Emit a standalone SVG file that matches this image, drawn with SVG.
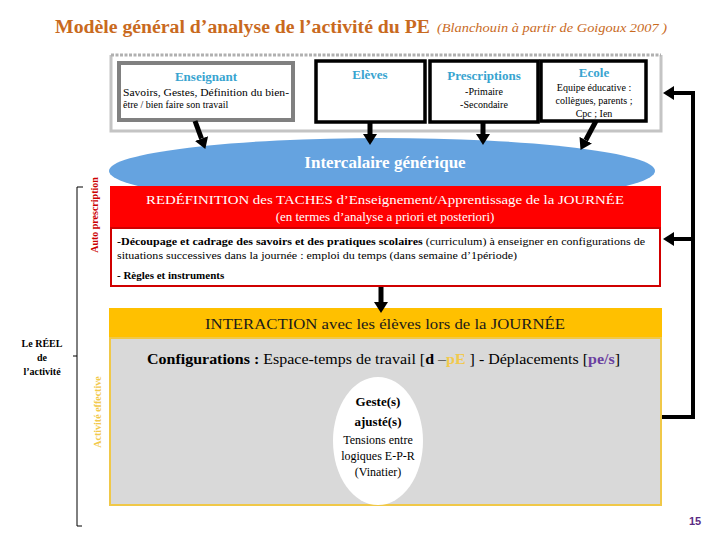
<svg xmlns="http://www.w3.org/2000/svg" width="720" height="540" viewBox="0 0 720 540">
<defs>
<style>
.ttl{fill:#C96A1E}
.bt{fill:#38A4D0;font-weight:bold;font-size:13px;text-anchor:middle}
.sm{font-size:10px;fill:#000}
.box{fill:#fff;stroke:#000;stroke-width:3.5}
.arr{stroke:#000;stroke-width:5;fill:none}
.con{stroke:#000;stroke-width:4;fill:none}
</style>
<marker id="ah" markerWidth="14" markerHeight="14" refX="0" refY="7" orient="auto" markerUnits="userSpaceOnUse"><path d="M0,0 L11,7 L0,14 z" fill="#000"/></marker>
</defs>
<rect width="720" height="540" fill="#fff"/>
<g font-family="'Liberation Serif', 'DejaVu Serif', serif">
<g id="title">
<text x="55" y="33" class="ttl" font-size="18" font-weight="bold" textLength="375" lengthAdjust="spacingAndGlyphs">Modèle général d’analyse de l’activité du PE</text>
<text x="437" y="32" class="ttl" font-size="13" font-style="italic" textLength="230" lengthAdjust="spacingAndGlyphs">(Blanchouin à partir de Goigoux 2007 )</text>
</g>
<g id="context">
<path d="M111,55 V131 H661 V55" fill="#fff" stroke="#C4C4C4" stroke-width="3"/>
<line x1="111" y1="55" x2="661" y2="55" stroke="#B0B0B0" stroke-width="3" stroke-dasharray="3,1.5"/>
</g>
<g id="enseignant">
<rect x="119" y="63" width="174" height="57" fill="#fff" stroke="#808080" stroke-width="4"/>
<text x="206" y="81" class="bt">Enseignant</text>
<text x="123" y="96" class="sm" textLength="166" lengthAdjust="spacingAndGlyphs">Savoirs, Gestes, Définition du bien-</text>
<text x="123" y="108" class="sm">être / bien faire son travail</text>
</g>
<g id="eleves">
<rect x="316" y="61" width="109" height="61" class="box"/>
<text x="370" y="79" class="bt">Elèves</text>
</g>
<g id="prescriptions">
<rect x="430" y="61" width="108" height="61" class="box"/>
<text x="484" y="80" class="bt">Prescriptions</text>
<text x="484" y="95" class="sm" text-anchor="middle">-Primaire</text>
<text x="484" y="108" class="sm" text-anchor="middle">-Secondaire</text>
</g>
<g id="ecole">
<rect x="541" y="61" width="105" height="60" class="box"/>
<text x="594" y="77" class="bt">Ecole</text>
<text x="594" y="91" class="sm" text-anchor="middle">Equipe éducative :</text>
<text x="594" y="104" class="sm" text-anchor="middle">collègues, parents ;</text>
<text x="594" y="117" class="sm" text-anchor="middle">Cpc ; Ien</text>
</g>
<g id="intercalaire">
<ellipse cx="382" cy="171" rx="273" ry="33" fill="#65A3E0"/>
<text x="385" y="168" fill="#fff" font-size="17" font-weight="bold" text-anchor="middle">Intercalaire générique</text>
</g>
<g id="redefinition">
<rect x="110" y="186" width="551" height="42" fill="#FF0000"/>
<text x="385" y="204" fill="#fff" font-size="13" text-anchor="middle" textLength="478" lengthAdjust="spacingAndGlyphs">REDÉFINITION des TACHES d’Enseignement/Apprentissage de la JOURNÉE</text>
<text x="385" y="221" fill="#fff" font-size="13" text-anchor="middle">(en termes d’analyse a priori et posteriori)</text>
<rect x="111" y="228" width="549" height="58" fill="#fff" stroke="#D00000" stroke-width="2"/>
<text x="117" y="245" font-size="11" textLength="528" lengthAdjust="spacingAndGlyphs"><tspan font-weight="bold">-Découpage et cadrage des savoirs et des pratiques scolaires</tspan> (curriculum) à enseigner en configurations de</text>
<text x="117" y="259" font-size="11" textLength="400" lengthAdjust="spacingAndGlyphs">situations successives dans la journée : emploi du temps (dans semaine d’1période)</text>
<text x="117" y="279" font-size="11" font-weight="bold">- Règles et instruments</text>
</g>
<g id="interaction">
<rect x="109" y="308" width="553" height="30" fill="#FFC000"/>
<rect x="110" y="338" width="551" height="167" fill="#D9D9D9" stroke="#F0C848" stroke-width="2"/>
<text x="385" y="329" fill="#1a1a1a" font-size="14" text-anchor="middle" textLength="360" lengthAdjust="spacingAndGlyphs">INTERACTION avec les élèves lors de la JOURNÉE</text>
<text x="147" y="364" font-size="14" fill="#000" textLength="473" lengthAdjust="spacingAndGlyphs"><tspan font-weight="bold">Configurations :</tspan> Espace-temps de travail [<tspan font-weight="bold">d</tspan> –<tspan font-weight="bold" fill="#F2C94C">pE</tspan> ] - Déplacements [<tspan font-weight="bold" fill="#6B3FA0">pe/s</tspan>]</text>
</g>
<g id="geste">
<ellipse cx="378" cy="441" rx="45" ry="64" fill="#fff"/>
<text x="378" y="406" font-size="13" font-weight="bold" text-anchor="middle">Geste(s)</text>
<text x="378" y="426" font-size="13" font-weight="bold" text-anchor="middle">ajusté(s)</text>
<text x="378" y="444" font-size="12" text-anchor="middle">Tensions entre</text>
<text x="378" y="460" font-size="12" text-anchor="middle">logiques E-P-R</text>
<text x="378" y="476" font-size="12" text-anchor="middle">(Vinatier)</text>
</g>
<g id="labels">
<path d="M83,187 H77 V526 H82 M77,356 H73" fill="none" stroke="#000" stroke-width="1"/>
<text x="42" y="347" font-size="10" font-weight="bold" text-anchor="middle">Le RÉEL</text>
<text x="42" y="361" font-size="10" font-weight="bold" text-anchor="middle">de</text>
<text x="42" y="375" font-size="10" font-weight="bold" text-anchor="middle">l’activité</text>
<text transform="translate(98,215) rotate(-90)" font-size="10" font-weight="bold" fill="#CC0000" text-anchor="middle">Auto prescription</text>
<text transform="translate(101,412) rotate(-90)" font-size="10" font-weight="bold" fill="#F2C94C" text-anchor="middle">Activité effective</text>
<text x="695" y="525" font-family="'Liberation Sans', Arial, sans-serif" font-size="11" font-weight="bold" fill="#5B2C83" text-anchor="middle">15</text>
</g>
</g>
<g id="connectors">
<line x1="195" y1="121" x2="201.5" y2="138.6" class="arr" marker-end="url(#ah)"/>
<line x1="370" y1="122" x2="370" y2="134" class="arr" marker-end="url(#ah)"/>
<line x1="483" y1="122" x2="483" y2="134" class="arr" marker-end="url(#ah)"/>
<line x1="596" y1="121" x2="585.7" y2="140.2" class="arr" marker-end="url(#ah)"/>
<line x1="381" y1="287" x2="381" y2="302" class="arr" marker-end="url(#ah)"/>
<path d="M662,417 H693 V93 H674" class="con" marker-end="url(#ah)"/>
<line x1="693" y1="239" x2="674" y2="239" class="con" marker-end="url(#ah)"/>
</g>
</svg>
